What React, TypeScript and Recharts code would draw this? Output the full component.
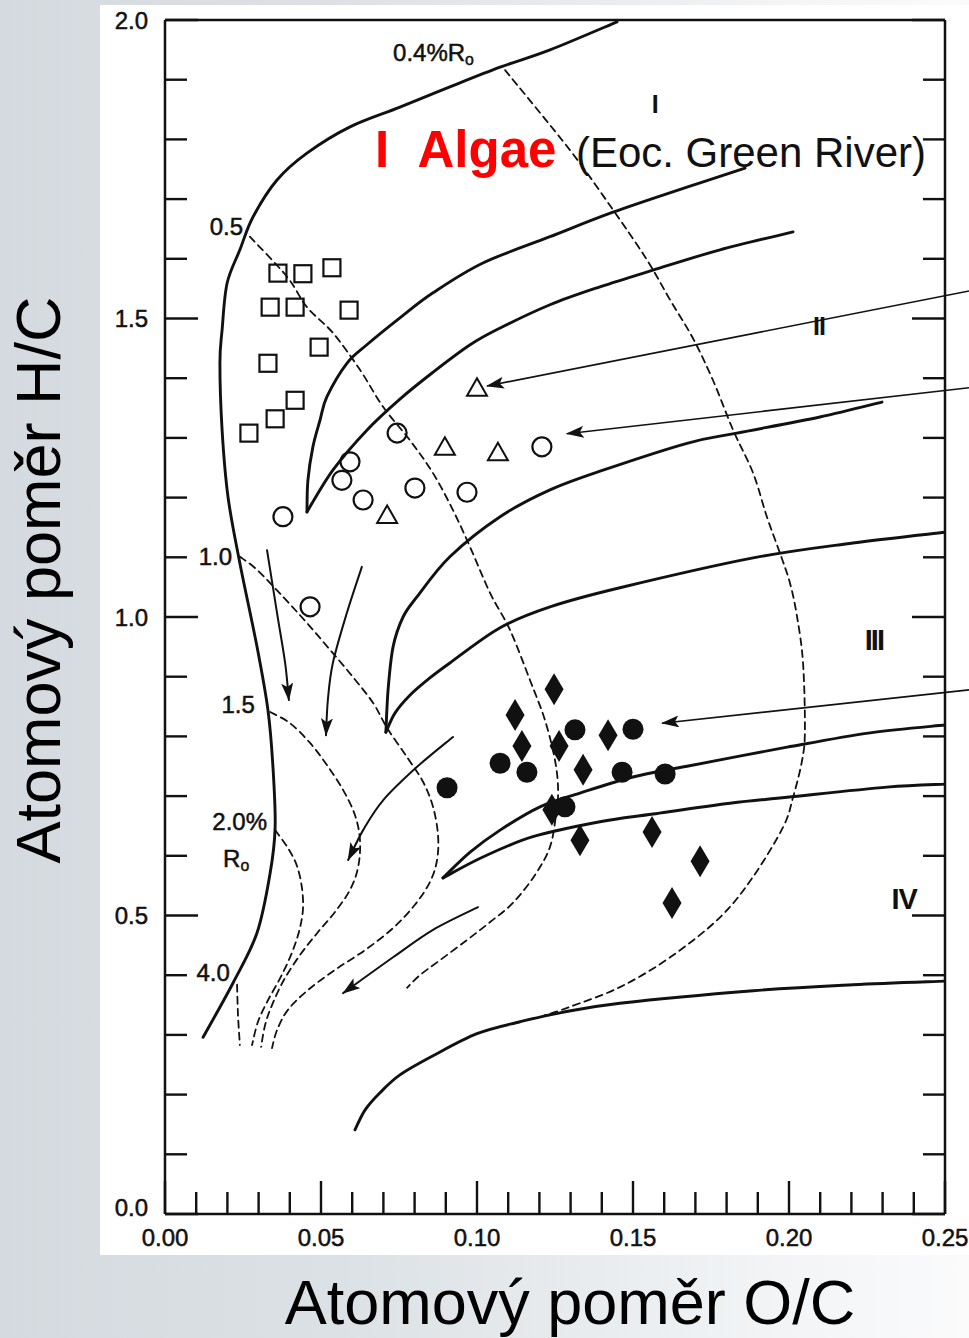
import { ScatterChart, Scatter, XAxis, YAxis, ReferenceLine, Label } from "recharts";

type Pair = [number, number];
type Pt = { x: number; y: number };

// ---- axis ticks ----
const xTicks = [0, 0.01, 0.02, 0.03, 0.04, 0.05, 0.06, 0.07, 0.08, 0.09, 0.1, 0.11, 0.12, 0.13, 0.14, 0.15, 0.16, 0.17, 0.18, 0.19, 0.2, 0.21, 0.22, 0.23, 0.24, 0.25];
const yTicks = [0, 0.1, 0.2, 0.3, 0.4, 0.5, 0.6, 0.7, 0.8, 0.9, 1, 1.1, 1.2, 1.3, 1.4, 1.5, 1.6, 1.7, 1.8, 1.9, 2];

// ---- evolution paths (solid) ----
const curveOuter: Pair[] = [[0.0122, 0.296], [0.0218, 0.387], [0.0295, 0.471], [0.0337, 0.571], [0.0353, 0.648], [0.0346, 0.749], [0.033, 0.844], [0.0295, 0.95], [0.024, 1.09], [0.0202, 1.201], [0.0183, 1.313], [0.0176, 1.425], [0.0183, 1.481], [0.0199, 1.559], [0.024, 1.615], [0.0282, 1.67], [0.0359, 1.732], [0.0455, 1.777], [0.0593, 1.821], [0.0753, 1.854], [0.0913, 1.888], [0.1074, 1.921], [0.1234, 1.95], [0.1449, 1.997]];
const curveIa: Pair[] = [[0.0455, 1.176], [0.0458, 1.229], [0.0474, 1.285], [0.0497, 1.33], [0.0519, 1.369], [0.0583, 1.425], [0.0647, 1.456], [0.0753, 1.501], [0.0859, 1.543], [0.1019, 1.593], [0.1234, 1.637], [0.1436, 1.678], [0.1673, 1.72], [0.1859, 1.752]];
const curveIb: Pair[] = [[0.0455, 1.176], [0.0538, 1.246], [0.0647, 1.313], [0.0753, 1.365], [0.0859, 1.41], [0.0978, 1.456], [0.1074, 1.484], [0.1234, 1.523], [0.1394, 1.553], [0.1564, 1.581], [0.1779, 1.615], [0.2013, 1.645]];
const curveIIa: Pair[] = [[0.0708, 0.807], [0.0715, 0.878], [0.0731, 0.95], [0.0763, 1.0], [0.0808, 1.034], [0.0913, 1.101], [0.1074, 1.168], [0.1234, 1.213], [0.1404, 1.246], [0.1673, 1.291], [0.1833, 1.308], [0.2099, 1.335], [0.2298, 1.36]];
const curveIIb: Pair[] = [[0.0708, 0.807], [0.0737, 0.839], [0.0785, 0.869], [0.0849, 0.898], [0.0913, 0.923], [0.1074, 0.982], [0.1234, 1.017], [0.1458, 1.049], [0.1885, 1.099], [0.2205, 1.124], [0.25, 1.142]];
const curveIIIa: Pair[] = [[0.0891, 0.563], [0.0978, 0.606], [0.1074, 0.643], [0.1202, 0.682], [0.133, 0.705], [0.15, 0.732], [0.1673, 0.75], [0.1994, 0.782], [0.226, 0.806], [0.25, 0.819]];
const curveIIIb: Pair[] = [[0.0891, 0.563], [0.1019, 0.598], [0.1179, 0.632], [0.1394, 0.657], [0.1564, 0.67], [0.1811, 0.688], [0.1994, 0.698], [0.2314, 0.715], [0.25, 0.72]];
const curveIV: Pair[] = [[0.0609, 0.141], [0.0641, 0.174], [0.0689, 0.203], [0.0753, 0.233], [0.0859, 0.265], [0.1, 0.302], [0.1138, 0.322], [0.1266, 0.337], [0.1458, 0.353], [0.1885, 0.374], [0.2205, 0.384], [0.25, 0.39]];

// ---- iso-reflectance lines (dashed) ----
const iso04: Pair[] = [[0.109, 1.916], [0.1298, 1.782], [0.1436, 1.682], [0.1545, 1.598], [0.1619, 1.531], [0.1692, 1.467], [0.1756, 1.397], [0.1821, 1.313], [0.1885, 1.241], [0.1929, 1.168], [0.1971, 1.107], [0.2003, 1.057], [0.2026, 1.0], [0.2045, 0.923], [0.2051, 0.811], [0.2042, 0.76], [0.2013, 0.698], [0.1981, 0.648], [0.1885, 0.565], [0.1779, 0.497], [0.1619, 0.43], [0.1458, 0.38], [0.1298, 0.347], [0.1218, 0.333]];
const iso05: Pair[] = [[0.0272, 1.637], [0.0391, 1.57], [0.0455, 1.519], [0.0538, 1.476], [0.0625, 1.414], [0.0699, 1.352], [0.0785, 1.296], [0.0859, 1.241], [0.0923, 1.179], [0.0978, 1.117], [0.1042, 1.04], [0.1106, 0.978], [0.117, 0.894], [0.1218, 0.827], [0.125, 0.76], [0.126, 0.71], [0.1253, 0.668], [0.1234, 0.615], [0.1186, 0.568], [0.1115, 0.521], [0.1042, 0.489], [0.0968, 0.459], [0.0881, 0.425], [0.0817, 0.4], [0.0776, 0.379]];
const iso10: Pair[] = [[0.024, 1.101], [0.0295, 1.079], [0.0378, 1.034], [0.0455, 0.99], [0.0529, 0.945], [0.0603, 0.899], [0.0667, 0.856], [0.0712, 0.814], [0.0776, 0.765], [0.0827, 0.724], [0.0859, 0.682], [0.0875, 0.635], [0.0872, 0.593], [0.0849, 0.556], [0.0801, 0.518], [0.0731, 0.479], [0.0641, 0.442], [0.0545, 0.409], [0.0458, 0.375], [0.0394, 0.342], [0.0359, 0.308], [0.0343, 0.278]];
const iso15: Pair[] = [[0.0337, 0.841], [0.0401, 0.822], [0.0465, 0.789], [0.0519, 0.752], [0.0571, 0.71], [0.0609, 0.668], [0.0625, 0.626], [0.0619, 0.581], [0.0593, 0.543], [0.0545, 0.506], [0.049, 0.472], [0.0433, 0.434], [0.0381, 0.392], [0.0343, 0.35], [0.0321, 0.317], [0.0308, 0.28]];
const iso20: Pair[] = [[0.0353, 0.643], [0.0394, 0.613], [0.0423, 0.583], [0.0439, 0.546], [0.0442, 0.509], [0.0429, 0.472], [0.0404, 0.434], [0.0369, 0.395], [0.033, 0.358], [0.0298, 0.322], [0.0279, 0.283]];
const iso40: Pair[] = [[0.0231, 0.384], [0.0234, 0.333], [0.024, 0.283]];

// ---- maturation arrows ----
const arrowA: Pair[] = [[0.0327, 1.112], [0.0359, 1.007], [0.0385, 0.923], [0.0397, 0.861]];
const arrowB: Pair[] = [[0.0631, 1.084], [0.0583, 1.007], [0.0538, 0.923], [0.0522, 0.861], [0.0516, 0.802]];
const arrowC: Pair[] = [[0.0923, 0.799], [0.0808, 0.749], [0.0699, 0.693], [0.0635, 0.643], [0.0587, 0.593]];
const arrowD: Pair[] = [[0.1003, 0.514], [0.0859, 0.476], [0.0731, 0.43], [0.0571, 0.37]];

// ---- pointer arrows from the right margin ----
const pointers: Pair[][] = [
  [[0.2577, 1.546], [0.1032, 1.387]],
  [[0.2577, 1.384], [0.1288, 1.307]],
  [[0.2577, 0.878], [0.1593, 0.822]],
];

// ---- samples ----
const squares: Pair[] = [[0.0362, 1.576], [0.0442, 1.575], [0.0535, 1.585], [0.0337, 1.519], [0.0417, 1.519], [0.059, 1.514], [0.0494, 1.452], [0.033, 1.425], [0.0417, 1.363], [0.0353, 1.332], [0.0269, 1.308]];
const openCircles: Pair[] = [[0.0744, 1.308], [0.0593, 1.26], [0.0567, 1.229], [0.0635, 1.196], [0.0378, 1.168], [0.0801, 1.216], [0.0968, 1.209], [0.0465, 1.017], [0.1208, 1.285]];
const triangles: Pair[] = [[0.1, 1.384], [0.0897, 1.285], [0.1067, 1.276], [0.0712, 1.171]];
const filledCircles: Pair[] = [[0.1314, 0.811], [0.15, 0.812], [0.1074, 0.755], [0.116, 0.74], [0.0904, 0.714], [0.1465, 0.74], [0.1603, 0.737], [0.1282, 0.682]];
const diamonds: Pair[] = [[0.1247, 0.879], [0.1122, 0.836], [0.1144, 0.784], [0.1263, 0.784], [0.142, 0.802], [0.134, 0.744], [0.124, 0.677], [0.133, 0.626], [0.1561, 0.64], [0.1715, 0.591], [0.1625, 0.521]];

// ---- annotations ----
const annotations = [
  { id: "ro04", x: 0.0731, y: 1.946, text: "0.4%R", sub: "o" },
  { id: "ro05", x: 0.025, y: 1.655, text: "0.5" },
  { id: "ro10", x: 0.0215, y: 1.102, text: "1.0" },
  { id: "ro15", x: 0.0288, y: 0.853, text: "1.5" },
  { id: "ro20", x: 0.0327, y: 0.657, text: "2.0%" },
  { id: "roR", x: 0.0186, y: 0.596, text: "R", sub: "o" },
  { id: "ro40", x: 0.0208, y: 0.404, text: "4.0" },
  { id: "tI", x: 0.1571, y: 1.859, text: "I" },
  { id: "tII", x: 0.2096, y: 1.487, text: "II" },
  { id: "tIII", x: 0.2272, y: 0.963, text: "III" },
  { id: "tIV", x: 0.2369, y: 0.528, text: "IV" },
  { id: "algae", x: 0.0673, y: 1.784, text: "I\u00a0\u00a0Algae" },
  { id: "green", x: 0.1317, y: 1.779, text: "(Eoc. Green River)" },
];

const INK = "#111";
const FONT = '"Liberation Sans", Arial, Helvetica, sans-serif';

type LabelStyle = { size: number; anchor: "start" | "middle" | "end"; weight?: number; color?: string; spacing?: number; heavy?: boolean };
const labelStyles: Record<string, LabelStyle> = {
  ro04: { size: 24, anchor: "start", heavy: true },
  ro05: { size: 24, anchor: "end", heavy: true },
  ro10: { size: 24, anchor: "end", heavy: true },
  ro15: { size: 24, anchor: "end", heavy: true },
  ro20: { size: 24, anchor: "end", heavy: true },
  roR: { size: 24, anchor: "start", heavy: true },
  ro40: { size: 24, anchor: "end", heavy: true },
  tI: { size: 25, anchor: "middle", weight: 700 },
  tII: { size: 25, anchor: "middle", weight: 700, spacing: -1 },
  tIII: { size: 29, anchor: "middle", weight: 700, spacing: -2 },
  tIV: { size: 29, anchor: "middle", weight: 700, spacing: -1 },
  algae: { size: 51, anchor: "start", weight: 700, color: "#ff0000" },
  green: { size: 42, anchor: "start" },
};

const pts = (a: Pair[]): Pt[] => a.map(([x, y]) => ({ x, y }));

function smoothPath(p: { x: number; y: number }[]) {
  if (!p || p.length === 0) return "";
  let d = `M${p[0].x},${p[0].y}`;
  for (let i = 0; i < p.length - 1; i++) {
    const p0 = p[i - 1] || p[i];
    const p1 = p[i];
    const p2 = p[i + 1];
    const p3 = p[i + 2] || p2;
    const c1x = p1.x + (p2.x - p0.x) / 6;
    const c1y = p1.y + (p2.y - p0.y) / 6;
    const c2x = p2.x - (p3.x - p1.x) / 6;
    const c2y = p2.y - (p3.y - p1.y) / 6;
    d += ` C${c1x},${c1y} ${c2x},${c2y} ${p2.x},${p2.y}`;
  }
  return d;
}

const pathLine = (width: number, dash?: string, arrow?: boolean) => (props: any) => (
  <path
    d={smoothPath(props.points)}
    fill="none"
    stroke={INK}
    strokeWidth={width}
    strokeDasharray={dash}
    strokeLinecap="round"
    strokeLinejoin="round"
    markerEnd={arrow ? "url(#arrowHead)" : undefined}
  />
);

const Empty = () => <g />;

const squareShape = ({ cx, cy }: any) => (
  <rect x={cx - 8.5} y={cy - 8.5} width={17} height={17} fill="none" stroke={INK} strokeWidth={2.2} />
);
const openCircleShape = ({ cx, cy }: any) => (
  <circle cx={cx} cy={cy} r={9.5} fill="none" stroke={INK} strokeWidth={2.2} />
);
const triangleShape = ({ cx, cy }: any) => (
  <path d={`M${cx},${cy - 9.5} L${cx + 10},${cy + 8} L${cx - 10},${cy + 8} Z`} fill="none" stroke={INK} strokeWidth={2} />
);
const dotShape = ({ cx, cy }: any) => <circle cx={cx} cy={cy} r={10.5} fill={INK} />;
const diamondShape = ({ cx, cy }: any) => (
  <path d={`M${cx},${cy - 16} L${cx + 9.5},${cy} L${cx},${cy + 16} L${cx - 9.5},${cy} Z`} fill={INK} />
);

const labelShape = (props: any) => {
  const { cx, cy, payload } = props;
  const s = labelStyles[payload.id];
  return (
    <text
      x={cx}
      y={cy + s.size * 0.36}
      fontSize={s.size}
      fontFamily={FONT}
      fontWeight={s.weight || 400}
      fill={s.color || INK}
      stroke={s.heavy ? INK : undefined}
      strokeWidth={s.heavy ? 0.5 : undefined}
      textAnchor={s.anchor}
      letterSpacing={s.spacing || 0}
    >
      {payload.text}
      {payload.sub ? (
        <tspan fontSize={s.size * 0.66} dy={s.size * 0.16}>
          {payload.sub}
        </tspan>
      ) : null}
    </text>
  );
};

type Side = "bottom" | "top" | "left" | "right";
const isMajorX = (v: number) => Math.abs(v * 20 - Math.round(v * 20)) < 1e-6;
const isMajorY = (v: number) => Math.abs(v * 2 - Math.round(v * 2)) < 1e-6;

const makeTick = (side: Side) => (props: any) => {
  const { x, y, payload } = props;
  const v: number = payload.value;
  const horizontal = side === "bottom" || side === "top";
  const major = horizontal ? isMajorX(v) : isMajorY(v);
  const len = major ? 33 : 22;
  let x2 = x;
  let y2 = y;
  if (side === "bottom") y2 = y - len;
  if (side === "top") y2 = y + len;
  if (side === "left") x2 = x + len;
  if (side === "right") x2 = x - len;
  return (
    <g>
      <line x1={x} y1={y} x2={x2} y2={y2} stroke={INK} strokeWidth={2.4} />
      {major && side === "bottom" ? (
        <text x={x} y={y + 32} textAnchor="middle" fontSize={24} fontFamily={FONT} fill={INK} stroke={INK} strokeWidth={0.5}>
          {v.toFixed(2)}
        </text>
      ) : null}
      {major && side === "left" ? (
        <text x={x - 17} y={y + 8.5 - (v === 0 ? 7 : 0)} textAnchor="end" fontSize={24} fontFamily={FONT} fill={INK} stroke={INK} strokeWidth={0.5}>
          {v.toFixed(1)}
        </text>
      ) : null}
    </g>
  );
};

const YTitle = (props: any) => {
  const vb = props.viewBox;
  const cx = vb.x + 60;
  const cy = vb.y + vb.height / 2 - 37;
  return (
    <text transform={`translate(${cx},${cy}) rotate(-90)`} textAnchor="middle" fontSize={63} fontFamily={FONT} fill="#000">
      Atomový poměr H/C
    </text>
  );
};

const XTitle = (props: any) => {
  const vb = props.viewBox;
  return (
    <text x={vb.x + vb.width / 2 + 15} y={vb.y + 110} textAnchor="middle" fontSize={63} fontFamily={FONT} fill="#000">
      Atomový poměr O/C
    </text>
  );
};

const pointerShape = (props: any) => (
  <line x1={props.x1} y1={props.y1} x2={props.x2} y2={props.y2} stroke={INK} strokeWidth={1.6} markerEnd="url(#arrowHead)" />
);

const solidCurves = [curveOuter, curveIa, curveIb, curveIIa, curveIIb, curveIIIa, curveIIIb, curveIV];
const dashedCurves = [iso04, iso05, iso10, iso15, iso20, iso40];
const arrows = [arrowA, arrowB, arrowC, arrowD];

const axisLine = { stroke: INK, strokeWidth: 2.5 };

export default function App() {
  return (
    <div
      style={{
        position: "absolute",
        left: 0,
        top: 0,
        width: 969,
        height: 1338,
        overflow: "hidden",
        background: "linear-gradient(90deg, #d4dadf 0%, #dce1e5 35%, #edf0f2 70%, #fbfbfc 100%)",
      }}
    >
      <div style={{ position: "absolute", left: 100, top: 5, width: 869, height: 1250, background: "#fff" }} />
      <div style={{ position: "absolute", left: 0, top: 0 }}>
        <ScatterChart width={969} height={1338} margin={{ top: 0, right: 0, bottom: 0, left: 0 }}>
          <defs>
            <marker id="arrowHead" markerUnits="userSpaceOnUse" markerWidth={18} markerHeight={12} viewBox="0 0 18 12" refX={17} refY={6} orient="auto">
              <path d="M0,0 L18,6 L0,12 L4,6 Z" fill={INK} />
            </marker>
          </defs>
          <XAxis
            type="number"
            dataKey="x"
            domain={[0, 0.25]}
            allowDataOverflow
            ticks={xTicks}
            interval={0}
            height={124}
            tickSize={0}
            tickMargin={0}
            tickLine={false}
            axisLine={axisLine}
            tick={makeTick("bottom")}
          >
            <Label content={XTitle} />
          </XAxis>
          <XAxis
            xAxisId="top"
            orientation="top"
            type="number"
            domain={[0, 0.25]}
            allowDataOverflow
            ticks={xTicks}
            interval={0}
            height={20}
            tickSize={0}
            tickMargin={0}
            tickLine={false}
            axisLine={axisLine}
            tick={makeTick("top")}
          />
          <YAxis
            type="number"
            dataKey="y"
            domain={[0, 2]}
            allowDataOverflow
            ticks={yTicks}
            interval={0}
            width={165}
            tickSize={0}
            tickMargin={0}
            tickLine={false}
            axisLine={axisLine}
            tick={makeTick("left")}
          >
            <Label content={YTitle} />
          </YAxis>
          <YAxis
            yAxisId="right"
            orientation="right"
            type="number"
            domain={[0, 2]}
            allowDataOverflow
            ticks={yTicks}
            interval={0}
            width={24}
            tickSize={0}
            tickMargin={0}
            tickLine={false}
            axisLine={axisLine}
            tick={makeTick("right")}
          />

          {solidCurves.map((c, i) => (
            <Scatter key={`s${i}`} data={pts(c)} line={pathLine(2.9)} shape={Empty} isAnimationActive={false} />
          ))}
          {dashedCurves.map((c, i) => (
            <Scatter key={`d${i}`} data={pts(c)} line={pathLine(1.8, "7 5")} shape={Empty} isAnimationActive={false} />
          ))}
          {arrows.map((c, i) => (
            <Scatter key={`a${i}`} data={pts(c)} line={pathLine(2, undefined, true)} shape={Empty} isAnimationActive={false} />
          ))}
          {pointers.map((seg, i) => (
            <ReferenceLine
              key={`p${i}`}
              segment={[
                { x: seg[0][0], y: seg[0][1] },
                { x: seg[1][0], y: seg[1][1] },
              ]}
              ifOverflow="visible"
              stroke={INK}
              strokeWidth={1.6}
              shape={pointerShape}
            />
          ))}

          <Scatter data={pts(squares)} shape={squareShape} isAnimationActive={false} />
          <Scatter data={pts(openCircles)} shape={openCircleShape} isAnimationActive={false} />
          <Scatter data={pts(triangles)} shape={triangleShape} isAnimationActive={false} />
          <Scatter data={pts(filledCircles)} shape={dotShape} isAnimationActive={false} />
          <Scatter data={pts(diamonds)} shape={diamondShape} isAnimationActive={false} />
          <Scatter data={annotations} shape={labelShape} isAnimationActive={false} />
        </ScatterChart>
      </div>
    </div>
  );
}
